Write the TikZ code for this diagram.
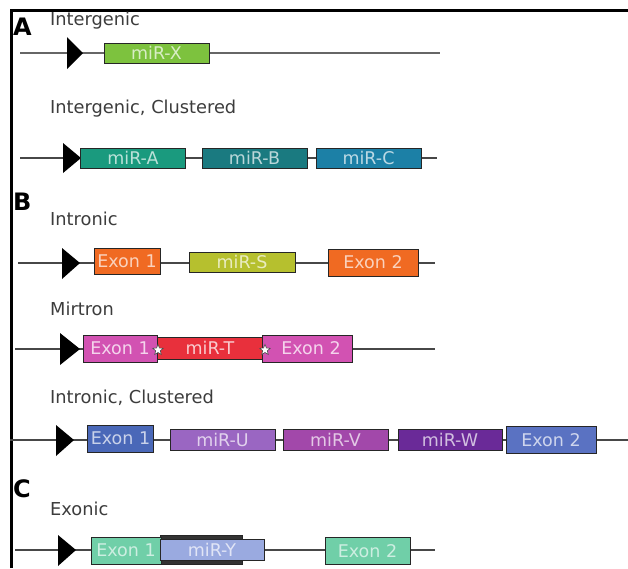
\documentclass[tikz,border=0pt]{standalone}
\usepackage{fontspec}
\setmainfont{DejaVu Sans}
\usetikzlibrary{shapes.geometric}
\definecolor{txtgray}{HTML}{3C3C3C}
\definecolor{bb}{HTML}{474747}
\definecolor{cX}{HTML}{7DC23E}
\definecolor{cA}{HTML}{1A9A7E}
\definecolor{cB}{HTML}{1A7A80}
\definecolor{cC}{HTML}{1C80A6}
\definecolor{cOr}{HTML}{F06A22}
\definecolor{cS}{HTML}{B6C02E}
\definecolor{cPk}{HTML}{D252B2}
\definecolor{cT}{HTML}{E8303C}
\definecolor{cEb}{HTML}{4A68B8}
\definecolor{cU}{HTML}{9A66C2}
\definecolor{cV}{HTML}{A248AA}
\definecolor{cW}{HTML}{6A2A98}
\definecolor{cEb2}{HTML}{5A72C2}
\definecolor{cGr}{HTML}{70CFA8}
\definecolor{cY}{HTML}{9AAAE0}
\tikzset{
  box/.style={rectangle, draw=black!85, line width=1pt, inner sep=0pt,
    font=\fontsize{17.5}{19}\selectfont},
  bone/.style={draw=bb, line width=1.8pt},
  prom/.style={fill=black},
  lbl/.style={anchor=base west, inner sep=0pt, text=txtgray, font=\fontsize{17.8}{20}\selectfont},
  panel/.style={anchor=base west, inner sep=0pt, font=\fontsize{24}{26}\selectfont\bfseries},
  frame/.style={draw=black, line width=2.4pt},
  splice/.style={star, star points=5, star point ratio=2.2, minimum size=11pt, inner sep=0pt, fill=white, draw=black!70, line width=0.6pt}
}
\begin{document}
\begin{tikzpicture}[x=1pt,y=-1pt]
\useasboundingbox (0,0) rectangle (628,568);
% frame
\coordinate (f1) at (11.5,568);
\coordinate (f2) at (11.5,10.5);
\coordinate (f3) at (628,10.5);
\draw[frame] (f1) -- (f2) -- (f3);
% panel letters
\node[panel] (pA) at (13,35) {A};
\node[panel] (pB) at (13,210) {B};
\node[panel] (pC) at (13,497) {C};
% labels
\node[lbl] (l1) at (50,25) {Intergenic};
\node[lbl] (l2) at (50,113) {Intergenic, Clustered};
\node[lbl] (l3) at (50,225) {Intronic};
\node[lbl] (l4) at (50,315) {Mirtron};
\node[lbl] (l5) at (50,403) {Intronic, Clustered};
\node[lbl] (l6) at (50,515) {Exonic};

% row 1
\coordinate (r1s) at (20,53); \coordinate (r1e) at (440,53);
\draw[bone, draw=black!60] (r1s) -- (r1e);
\fill[prom] (67,37) -- (83,53) -- (67,69) -- cycle;
\node[box, fill=cX, text=cX!30!white, minimum width=105pt, minimum height=20pt] (mX) at (156.5,53) {miR-X};

% row 2
\coordinate (r2s) at (20,158); \coordinate (r2e) at (437,158);
\draw[bone] (r2s) -- (r2e);
\fill[prom] (63,143) -- (81,158) -- (63,173) -- cycle;
\node[box, fill=cA, text=cA!30!white, minimum width=105pt, minimum height=20pt] (mA) at (133,158) {miR-A};
\node[box, fill=cB, text=cB!30!white, minimum width=105pt, minimum height=20pt] (mB) at (254.5,158) {miR-B};
\node[box, fill=cC, text=cC!30!white, minimum width=105pt, minimum height=20pt] (mC) at (368.5,158) {miR-C};

% row 3
\coordinate (r3s) at (18,263); \coordinate (r3e) at (435,263);
\draw[bone] (r3s) -- (r3e);
\fill[prom] (62,248) -- (80,263) -- (62,279) -- cycle;
\node[box, fill=cOr, text=cOr!30!white, minimum width=66pt, minimum height=26pt] (e31) at (127,261) {Exon 1};
\node[box, fill=cS, text=cS!30!white, minimum width=106pt, minimum height=20pt] (mS) at (242,262) {miR-S};
\node[box, fill=cOr, text=cOr!30!white, minimum width=90pt, minimum height=27pt] (e32) at (373,262.5) {Exon 2};

% row 4
\coordinate (r4s) at (15,349); \coordinate (r4e) at (435,349);
\draw[bone] (r4s) -- (r4e);
\fill[prom] (60,333) -- (80,349) -- (60,365) -- cycle;
\node[box, fill=cT, text=cT!25!white, minimum width=106pt, minimum height=22pt] (mT) at (210,348) {miR-T};
\node[box, fill=cPk, text=cPk!25!white, minimum width=74pt, minimum height=27pt] (e41) at (120,348.5) {Exon 1\hspace{7pt}};
\node[box, fill=cPk, text=cPk!25!white, minimum width=90pt, minimum height=27pt] (e42) at (307,348.5) {\hspace{8pt}Exon 2};
\node[splice] (s1) at (158,350) {};
\node[splice] (s2) at (265,350) {};

% row 5
\coordinate (r5s) at (10,440); \coordinate (r5e) at (628,440);
\draw[bone] (r5s) -- (r5e);
\fill[prom] (56,425) -- (74,440) -- (56,456) -- cycle;
\node[box, fill=cEb, text=cEb!30!white, minimum width=66pt, minimum height=27pt] (e51) at (120.5,438.5) {Exon 1};
\node[box, fill=cU, text=cU!30!white, minimum width=105pt, minimum height=21pt] (mU) at (222.5,439.5) {miR-U};
\node[box, fill=cV, text=cV!30!white, minimum width=105pt, minimum height=21pt] (mV) at (335.5,439.5) {miR-V};
\node[box, fill=cW, text=cW!30!white, minimum width=104pt, minimum height=21pt] (mW) at (450,439.5) {miR-W};
\node[box, fill=cEb2, text=cEb2!30!white, minimum width=90pt, minimum height=27pt] (e52) at (551,440) {Exon 2};

% row 6
\coordinate (r6s) at (15,550); \coordinate (r6e) at (435,550);
\draw[bone] (r6s) -- (r6e);
\fill[prom] (58,535) -- (76,550) -- (58,566) -- cycle;
\node[box, fill=black!80, minimum width=82pt, minimum height=29pt] (e61b) at (201,549.5) {};
\node[box, fill=cGr, text=cGr!35!white, minimum width=70pt, minimum height=27pt] (e61) at (126,550.5) {Exon 1};
\node[box, fill=cY, text=cY!30!white, minimum width=104pt, minimum height=21pt] (mY) at (212,549.5) {miR-Y};
\node[box, fill=cGr, text=cGr!35!white, minimum width=85pt, minimum height=27pt] (e62) at (367.5,551) {Exon 2};
\end{tikzpicture}
\end{document}
